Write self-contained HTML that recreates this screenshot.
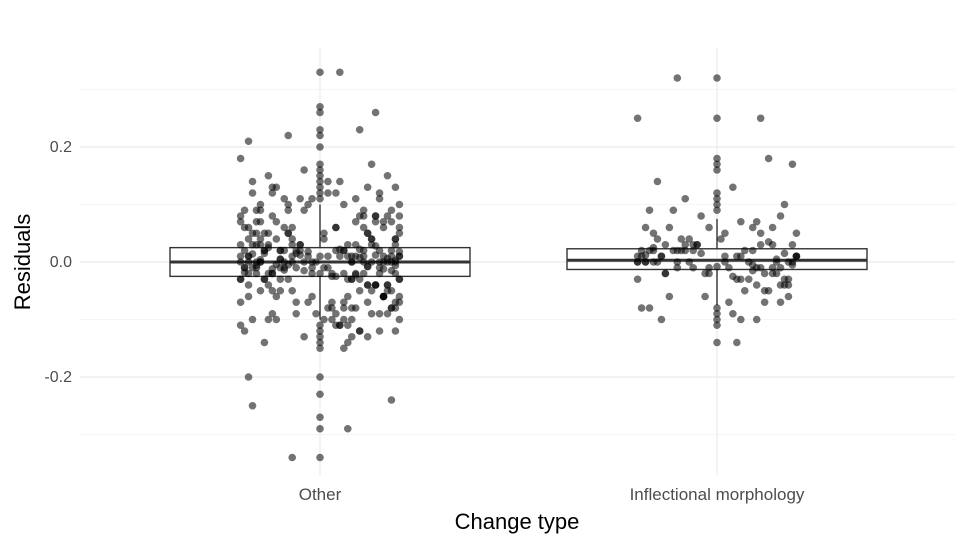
<!DOCTYPE html>
<html><head><meta charset="utf-8"><style>
body{margin:0;background:#fff;font-family:"Liberation Sans",sans-serif}
svg text{font-family:"Liberation Sans",sans-serif}
</style></head><body>
<svg id="chart" width="968" height="545" xmlns="http://www.w3.org/2000/svg"></svg>
<script>
const categories = ["Other", "Inflectional morphology"];
const yTicks = [-0.2, 0.0, 0.2];
const yMinor = [-0.3, -0.1, 0.1, 0.3];
const boxQ1 = [-0.025, -0.013];
const boxMed = [0.0, 0.003];
const boxQ3 = [0.025, 0.023];
const whiskLo = [-0.1, -0.075];
const whiskHi = [0.1, 0.075];
const otherVal = [0.01,-0.02,0.03,-0.05,0.0,0.08,-0.1,0.12,-0.03,0.02,0.05,-0.07,0.0,0.01,-0.01,0.15,-0.12,0.06,-0.04,0.03,0.1,-0.08,0.02,-0.02,0.0,0.04,-0.06,0.09,-0.14,0.11,0.01,-0.01,0.07,-0.09,0.03,-0.03,0.0,0.13,-0.11,0.05,0.02,-0.05,0.18,-0.15,0.06,-0.02,0.01,0.0,0.04,-0.07,0.08,-0.1,0.03,-0.04,0.12,-0.13,0.0,0.02,-0.01,0.06,-0.06,0.1,-0.08,0.01,0.03,-0.03,0.14,-0.12,0.05,-0.05,0.0,0.02,-0.02,0.07,-0.09,0.09,-0.11,0.04,0.01,-0.01,0.22,-0.2,0.23,-0.25,0.17,-0.24,0.02,0.0,-0.03,0.05,0.11,-0.07,0.08,-0.04,0.03,0.06,-0.1,0.0,0.01,-0.02,0.33,0.26,-0.29,-0.34,0.21,0.13,-0.06,0.04,0.07,-0.08];
const otherJit = [-0.2,0.15,-0.05,0.1,0.19,-0.12,0.03,-0.17,0.08,-0.09,0.2,0.12,-0.15,0.05,-0.02,0.17,-0.19,-0.07,0.14,-0.13,0.06,0.18,-0.1,0.11,-0.18,0.01,0.16,-0.04,-0.14,0.09,0.2,-0.06,-0.16,0.13,0.07,-0.2,0.15,-0.11,0.04,-0.08,-0.19,0.18,-0.2,0.06,0.11,-0.13,0.02,-0.16,0.19,-0.03,0.14,-0.17,0.09,0.17,-0.12,0.12,0.08,-0.05,-0.1,0.2,0.16,-0.15,0.03,-0.18,-0.07,0.1,0.05,0.19,-0.14,0.13,-0.09,0.15,0.0,-0.2,-0.01,0.18,0.07,-0.11,0.11,-0.19,-0.08,-0.18,0.1,-0.17,0.13,0.18,-0.06,0.17,0.2,-0.13,-0.02,0.06,0.14,0.12,-0.16,0.04,0.08,-0.04,0.16,-0.12,0.05,0.14,0.07,-0.07,-0.18,0.19,0.2,-0.15,0.09,0.02];
const otherExtraVal = [0.05,-0.04,0.09,-0.08,0.02,-0.03,0.12,-0.11,0.07,-0.06,0.03,-0.02,0.1,-0.09,0.04,-0.05,0.06,-0.07,0.08,-0.1,0.01,-0.01,0.13,-0.12,0.05,-0.04,0.09,-0.06,0.02,-0.03,0.11,-0.1,0.07,-0.05,0.03,-0.02,0.04,-0.08,0.06,-0.07,0.14,-0.13,0.08,-0.09,0.01,-0.01,0.12,-0.11,0.05,-0.04,0.09,-0.08,0.02,-0.03,0.1,-0.12,0.07,-0.06,0.03,-0.02,0.04,-0.05,0.06,-0.07,0.08,-0.1,0.15,-0.14,0.11,-0.09,0.05,-0.04,0.02,-0.03,0.07,-0.06,0.03,-0.02,0.09,-0.08,0.04,-0.05,0.06,-0.07,0.13,-0.11,0.01,-0.01,0.1,-0.09,0.16,-0.12,0.05,-0.04,0.08,-0.06,0.02,-0.03,0.12,-0.1,0.03,-0.05,0.07,-0.08,0.04,-0.02,0.09,-0.07,0.06,-0.04,0.11,-0.13,0.01,-0.06,0.14,-0.1,0.05,-0.03,0.08,-0.09];
const otherExtraJit = [0.12,-0.18,-0.08,0.19,-0.14,0.07,0.04,-0.2,0.16,-0.11,-0.17,0.09,0.2,-0.06,0.13,-0.15,-0.19,0.03,0.1,-0.13,0.18,-0.09,-0.12,0.15,0.01,0.17,-0.16,-0.02,0.11,-0.2,-0.05,0.06,0.14,-0.1,-0.15,0.19,-0.07,0.08,-0.18,0.2,0.02,-0.04,0.17,-0.12,0.09,-0.17,0.15,0.05,-0.08,0.12,-0.19,0.18,0.06,-0.14,-0.03,0.1,-0.11,0.16,0.19,-0.16,0.13,-0.07,0.04,-0.2,0.11,0.2,-0.13,0.07,-0.09,0.17,-0.17,0.14,-0.1,0.08,0.18,-0.18,-0.05,0.03,-0.15,0.09,0.19,-0.12,0.16,-0.06,0.12,0.05,0.2,-0.19,-0.08,0.15,-0.04,0.1,-0.16,0.14,-0.2,0.07,0.18,-0.14,0.02,-0.11,0.13,0.17,-0.15,0.06,-0.18,-0.02,0.11,0.19,-0.09,-0.13,0.15,0.08,-0.07,0.16,-0.17,0.01,0.12,-0.1,0.2,0.04];
const otherCoreVal = [0.0,0.01,-0.01,0.02,-0.02,0.005,-0.005,0.015,-0.015,0.0,0.01,-0.01,0.02,-0.02,0.0,0.008,-0.008,0.012,-0.012,0.0,0.018,-0.018,0.004,-0.004,0.0,0.01,-0.01,0.022,-0.022,0.0,0.006,-0.006,0.014,-0.014,0.0,0.01,-0.01,0.025,-0.025,0.0,0.03,-0.03,0.012,-0.008,0.0,0.02,-0.015,0.005,-0.02,0.028,0.01,-0.012,0.0,0.018,-0.025,0.003,-0.006,0.022,-0.03,0.015];
const otherCoreJit = [-0.2,-0.18,-0.16,-0.14,-0.12,-0.1,-0.08,-0.06,-0.04,-0.02,0.0,0.02,0.04,0.06,0.08,0.1,0.12,0.14,0.16,0.18,0.2,-0.19,-0.15,-0.11,-0.07,-0.03,0.01,0.05,0.09,0.13,0.17,0.19,-0.17,-0.09,-0.01,0.07,0.15,-0.13,0.03,0.11,-0.2,0.2,-0.05,0.12,-0.15,0.06,0.18,-0.1,-0.18,0.14,0.08,-0.12,0.16,-0.03,0.04,0.19,-0.16,0.1,-0.08,-0.14];
const otherCenter = [0.33,0.27,0.26,0.23,0.22,0.2,0.17,0.16,0.15,0.14,0.13,0.12,0.11,-0.11,-0.12,-0.13,-0.14,-0.15,-0.2,-0.23,-0.27,-0.29,-0.34];
const inflVal = [0.01,-0.02,0.03,-0.04,0.0,0.06,-0.07,0.09,-0.03,0.02,0.05,-0.05,0.0,0.01,-0.01,0.1,-0.08,0.04,-0.02,0.03,0.07,-0.06,0.02,-0.01,0.0,0.04,-0.04,0.08,-0.1,0.06,0.01,-0.01,0.05,-0.05,0.02,-0.03,0.0,0.09,-0.09,0.03,0.02,-0.04,0.17,-0.1,0.05,-0.02,0.01,0.0,0.03,-0.06,0.06,-0.08,0.02,-0.03,0.32,0.25,0.25,-0.14,0.11,-0.1,0.0,0.01,-0.01,0.02,-0.02,0.0,0.01,-0.01,0.03,-0.03,0.18,0.14,0.13,0.06,-0.07];
const inflJit = [-0.2,0.15,-0.05,0.1,0.19,-0.12,0.03,-0.17,0.08,-0.09,0.2,0.12,-0.15,0.05,-0.02,0.17,-0.19,-0.07,0.14,-0.13,0.06,0.18,-0.1,0.11,-0.18,0.01,0.16,-0.04,-0.14,0.09,0.2,-0.06,-0.16,0.13,0.07,-0.2,0.15,-0.11,0.04,-0.08,-0.19,0.18,0.19,0.06,0.11,-0.13,0.02,-0.16,0.19,-0.03,0.14,-0.17,0.09,0.17,-0.1,-0.2,0.11,0.05,-0.08,0.1,-0.18,-0.14,-0.1,-0.06,-0.02,0.02,0.06,0.1,0.14,0.18,0.13,-0.15,0.04,-0.18,0.16];
const inflExtraVal = [0.02,-0.01,0.04,-0.03,0.01,0.0,0.03,-0.02,0.05,-0.04,0.015,-0.015,0.025,-0.005,0.0,0.035,-0.025,0.01,-0.01,0.02,0.06,-0.05,0.0,0.01,-0.02,0.03,0.005,-0.008,0.012,0.0,0.07,-0.06,0.02,-0.03,0.04,0.01,-0.01,0.0,0.015,-0.02,0.08,-0.07,0.03,0.0,-0.005,0.02];
const inflExtraJit = [-0.17,0.14,-0.09,0.06,0.2,-0.2,0.11,-0.13,0.02,0.17,-0.04,0.09,-0.16,0.19,-0.07,0.13,0.04,-0.19,0.16,-0.11,-0.02,0.07,0.18,-0.14,0.12,-0.06,0.15,0.0,-0.18,0.08,0.1,-0.12,-0.08,0.05,-0.15,0.2,0.03,-0.1,0.17,-0.03,0.16,0.12,-0.05,-0.2,0.09,-0.16];
const inflCenter = [0.32,0.25,0.18,0.17,0.16,0.12,0.11,0.1,0.09,-0.08,-0.09,-0.1,-0.11,-0.14];

const NS = "http://www.w3.org/2000/svg";
const svg = document.getElementById("chart");
const plotL = 80, plotR = 955, plotT = 48, plotB = 475;
const y = v => 262 - v * 575;
const x = (i, j) => 320 + i * 397 + j * 397;
function mk(tag, attrs, parent) {
  const e = document.createElementNS(NS, tag);
  for (const k in attrs) e.setAttribute(k, attrs[k]);
  (parent || svg).appendChild(e);
  return e;
}
yMinor.forEach(v => {
  const l = mk("line", {x1: plotL, x2: plotR, y1: y(v), y2: y(v), stroke: "#ebebeb", "stroke-width": 0.6});
  
  
});
yTicks.forEach(v => {
  const l = mk("line", {x1: plotL, x2: plotR, y1: y(v), y2: y(v), stroke: "#ebebeb", "stroke-width": 1.2});
  
  
  const t = mk("text", {x: 72, y: y(v) + 5, "text-anchor": "end", "font-size": 16, fill: "#4d4d4d"});
  t.textContent = v === 0 ? "0.0" : v.toFixed(1);
  
  
});
categories.forEach((c, i) => {
  const l = mk("line", {x1: x(i, 0), x2: x(i, 0), y1: plotT, y2: plotB, stroke: "#ebebeb", "stroke-width": 1.2});
  
  
  const t = mk("text", {x: x(i, 0), y: 500, "text-anchor": "middle", "font-size": 17, fill: "#4d4d4d"});
  t.textContent = c;
  
  
});
categories.forEach((c, i) => {
  const g = mk("g", {});
  
  
  const cx = x(i, 0);
  mk("line", {x1: cx, x2: cx, y1: y(boxQ3[i]), y2: y(whiskHi[i]), stroke: "#333", "stroke-width": 1.4}, g);
  mk("line", {x1: cx, x2: cx, y1: y(boxQ1[i]), y2: y(whiskLo[i]), stroke: "#333", "stroke-width": 1.4}, g);
  mk("rect", {x: cx - 150, y: y(boxQ3[i]), width: 300, height: y(boxQ1[i]) - y(boxQ3[i]), fill: "none", stroke: "#333", "stroke-width": 1.4}, g);
  mk("line", {x1: cx - 150, x2: cx + 150, y1: y(boxMed[i]), y2: y(boxMed[i]), stroke: "#333", "stroke-width": 3}, g);
});
function pts(vals, jits, i, name) {
  vals.forEach((v, k) => {
    const c = mk("circle", {cx: x(i, jits ? jits[k] : 0), cy: y(v), r: 3.8, fill: "rgba(0,0,0,0.55)"});
    
    
  });
}
pts(otherVal, otherJit, 0, 'point-other');
pts(otherExtraVal, otherExtraJit, 0, 'point-other');
pts(otherCoreVal, otherCoreJit, 0, 'point-other');
pts(otherCenter, null, 0, 'point-other');
pts(inflVal, inflJit, 1, 'point-inflectional');
pts(inflExtraVal, inflExtraJit, 1, 'point-inflectional');
pts(inflCenter, null, 1, 'point-inflectional');
const xt = mk("text", {x: 517, y: 529, "text-anchor": "middle", "font-size": 22, fill: "#000"});
xt.textContent = "Change type";


const yt = mk("text", {x: 0, y: 0, "text-anchor": "middle", "font-size": 22, fill: "#000", transform: "translate(30,262) rotate(-90)"});
yt.textContent = "Residuals";


</script>
</body></html>
